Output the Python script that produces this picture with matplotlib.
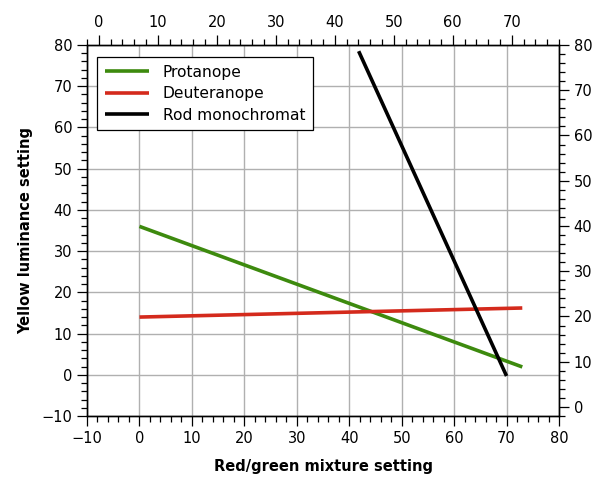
import matplotlib
matplotlib.use("Agg")
import matplotlib.pyplot as plt
from matplotlib.ticker import MultipleLocator

# Data
series_names = ["Protanope", "Deuteranope", "Rod monochromat"]
protanope_x = [0, 73]
protanope_y = [36, 1.9]
deuteranope_x = [0, 73]
deuteranope_y = [14, 16.2]
rod_x = [41.8, 70]
rod_y = [78.5, -0.3]

colors = ["#3d8a0e", "#d42a1c", "#000000"]

x_label = "Red/green mixture setting"
y_label = "Yellow luminance setting"

plt.rcParams['font.family'] = ['DejaVu Sans']

fig = plt.figure(figsize=(6.05, 4.79), dpi=100)
ax = fig.add_axes([87/605, 1-416/479, (559-87)/605, (416-45)/479])

ax.set_xlim(-10, 80)
ax.set_ylim(-10, 80)
ax.xaxis.set_major_locator(MultipleLocator(10))
ax.xaxis.set_minor_locator(MultipleLocator(2))
ax.yaxis.set_major_locator(MultipleLocator(10))
ax.yaxis.set_minor_locator(MultipleLocator(2))
ax.grid(True, which='major', color='#b0b0b0', linewidth=1.0)
ax.set_axisbelow(True)

ax.plot(protanope_x, protanope_y, color=colors[0], lw=2.6, label=series_names[0], solid_capstyle='butt')
ax.plot(deuteranope_x, deuteranope_y, color=colors[1], lw=2.6, label=series_names[1], solid_capstyle='butt')
ax.plot(rod_x, rod_y, color=colors[2], lw=2.6, label=series_names[2], solid_capstyle='butt')

tick_kw = dict(direction='out', width=0.9, colors='black', labelsize=10.5)
MAJ, MIN = 7.5, 4.5
ax.tick_params(which='major', length=MAJ, pad=3, **tick_kw)
ax.tick_params(which='minor', length=MIN, **tick_kw)

ax.set_xlabel(x_label, fontsize=10.5, fontweight='bold', labelpad=10)
ax.set_ylabel(y_label, fontsize=10.5, fontweight='bold', labelpad=6)

# Top axis
axt = ax.twiny()
axt.set_xlim(-2, 78)
axt.xaxis.set_minor_locator(MultipleLocator(2))
axt.set_xticks(range(0, 80, 10))
axt.tick_params(which='major', length=MAJ, pad=3, **tick_kw)
axt.tick_params(which='minor', length=MIN, **tick_kw)

# Right axis
axr = ax.twinx()
axr.set_ylim(-2, 80)
axr.yaxis.set_minor_locator(MultipleLocator(2))
axr.set_yticks(range(0, 90, 10))
axr.tick_params(which='major', length=MAJ, pad=3, **tick_kw)
axr.tick_params(which='minor', length=MIN, **tick_kw)

for a in (ax, axt, axr):
    for s in a.spines.values():
        s.set_linewidth(0.9)

leg = ax.legend(loc='upper left', bbox_to_anchor=(0.022, 0.968), fontsize=11.2,
                frameon=True, fancybox=False, edgecolor='black', framealpha=1,
                handlelength=2.8, handletextpad=0.9, borderpad=0.5,
                labelspacing=0.42, borderaxespad=0)
leg.get_frame().set_linewidth(0.9)
leg.set_zorder(10)

fig.savefig("out.png", dpi=100)
